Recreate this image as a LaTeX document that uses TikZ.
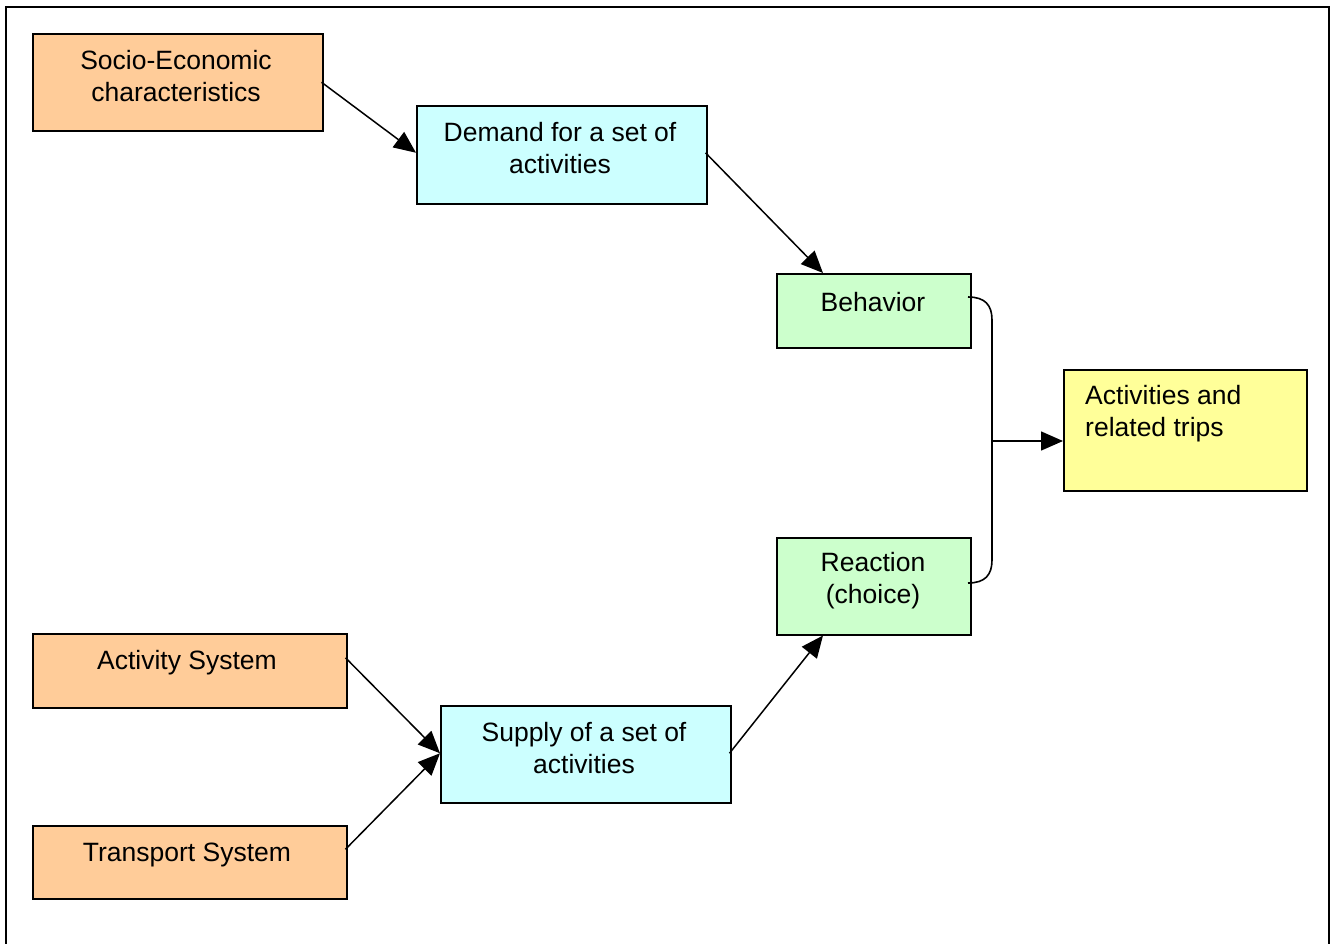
\documentclass[tikz,border=0pt]{standalone}
\usepackage{fontspec}
\setmainfont{Liberation Sans}
\usetikzlibrary{arrows.meta}
\begin{document}
\begin{tikzpicture}[x=1pt,y=-1pt,
  box/.style={draw=black,line width=1.5pt,inner sep=0pt,anchor=north west},
  txt/.style={font=\fontsize{26.5}{32}\selectfont,align=center,inner sep=0pt},
  arr/.style={line width=1.5pt,-{Triangle[length=22pt,width=19pt]}},
  conn/.style={line width=1.6pt}]
\useasboundingbox (0,0) rectangle (1333,943);
\clip (0,0) rectangle (1333,943);
\definecolor{orangeF}{RGB}{255,204,153}
\definecolor{cyanF}{RGB}{204,255,255}
\definecolor{greenF}{RGB}{204,255,204}
\definecolor{yellowF}{RGB}{255,255,153}
\draw[line width=2pt] (6,960) -- (6,7) -- (1329,7) -- (1329,960);
% boxes
\node[box,fill=orangeF,minimum width=290pt,minimum height=97pt] (socio) at (32,33) {};
\node[box,fill=cyanF,minimum width=290pt,minimum height=98pt] (demand) at (416,105) {};
\node[box,fill=greenF,minimum width=194pt,minimum height=74pt] (behav) at (776,273) {};
\node[box,fill=yellowF,minimum width=243pt,minimum height=121pt] (act) at (1063,369) {};
\node[box,fill=greenF,minimum width=194pt,minimum height=97pt] (react) at (776,537) {};
\node[box,fill=orangeF,minimum width=314pt,minimum height=74pt] (actsys) at (32,633) {};
\node[box,fill=cyanF,minimum width=290pt,minimum height=97pt] (supply) at (440,705) {};
\node[box,fill=orangeF,minimum width=314pt,minimum height=73pt] (trans) at (32,825) {};
% texts
\node[txt] (socioT) at (176,76.5) {Socio-Economic\\characteristics};
\node[txt] (demandT) at (560,148.5) {Demand for a set of\\activities};
\node[txt] (behavT) at (873,302.5) {Behavior};
\node[txt,align=left,anchor=west] (actT) at (1085,413.5) {Activities and\\related trips};
\node[txt] (reactT) at (873,580.5) {Reaction\\(choice)};
\node[txt] (actsysT) at (187,662.5) {Activity System};
\node[txt] (supplyT) at (584,748.5) {Supply of a set of\\activities};
\node[txt] (transT) at (187,854.5) {Transport System};
% connectors
\coordinate (s1) at ([xshift=-2pt]socio.east);
\draw[arr] (s1) -- ([yshift=2pt]demand.west);
\coordinate (d1) at ([xshift=-2pt,yshift=2pt]demand.east);
\draw[arr] (d1) -- ([xshift=47pt]behav.north west);
\coordinate (a1) at ([xshift=-2pt,yshift=13pt]actsys.east);
\draw[arr] (a1) -- ([yshift=1pt]supply.west);
\coordinate (t1) at ([xshift=-2pt,yshift=13pt]trans.east);
\draw[arr] (t1) -- ([yshift=1pt]supply.west);
\coordinate (u1) at ([xshift=-2pt,yshift=1pt]supply.east);
\draw[arr] (u1) -- ([xshift=47pt]react.south west);
% brace
\coordinate (b1) at (968,297);
\coordinate (b2) at (968,583);
\coordinate (bm) at (992,441);
\draw[conn] (b1) .. controls (985,297) and (992,305) .. (992,320) -- (992,560) .. controls (992,575) and (985,583) .. (b2);
\draw[arr] (bm) -- (act.west |- bm);
\end{tikzpicture}
\end{document}
